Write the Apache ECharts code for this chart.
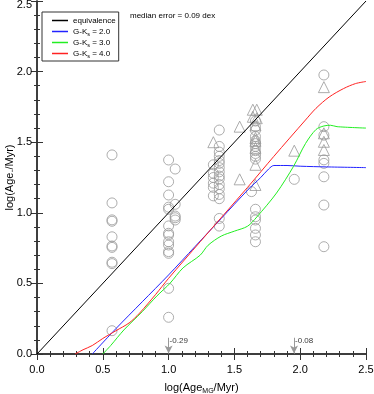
<!DOCTYPE html>
<html lang="en">
  <head>
    <meta charset="utf-8" />
    <title>Age comparison</title>
    <script type="text/javascript" src="https://cdn.jsdelivr.net/npm/echarts@6/dist/echarts.min.js"></script>
    <style type="text/css">
      * {
        margin: 0;
        padding: 0;
      }
      html,
      body,
      #chart {
        width: 100%;
        height: 100%;
        overflow: hidden;
        background: #fff;
      }
    </style>
  </head>
  <body>
    <div id="chart"></div>
    <script type="text/javascript">
      // equivalence line
      var equivalence = [[0, 0], [2.5, 2.5]];

      // model curves, G-Ks colour
      var curveGK20 = [[0.42, 0], [0.6, 0.18], [0.8, 0.37], [1.0, 0.56], [1.2, 0.76], [1.4, 0.96],
        [1.6, 1.16], [1.7, 1.25], [1.76, 1.31], [1.8, 1.335], [1.9, 1.335], [2.0, 1.33], [2.2, 1.325], [2.5, 1.32]];
      var curveGK30 = [[0.5, 0], [0.56, 0.06], [0.66, 0.17], [0.8, 0.3], [0.91, 0.41], [1.01, 0.5], [1.11, 0.61],
        [1.24, 0.7], [1.3, 0.77], [1.4, 0.835], [1.5, 0.87], [1.6, 0.905], [1.67, 0.97], [1.82, 1.14], [1.95, 1.33],
        [2.04, 1.49], [2.12, 1.59], [2.18, 1.615], [2.23, 1.62], [2.28, 1.61], [2.5, 1.6]];
      var curveGK40 = [[0.29, 0], [0.35, 0.03], [0.42, 0.06], [0.5, 0.11], [0.6, 0.165], [0.7, 0.22], [0.78, 0.29],
        [0.9, 0.42], [1.0, 0.536], [1.24, 0.795], [1.6, 1.18], [1.8, 1.4], [2.04, 1.657], [2.12, 1.74],
        [2.22, 1.82], [2.33, 1.88], [2.42, 1.915], [2.5, 1.93]];

      // individual stars (x, y)
      var circles = [
        [0.57, 1.41], [0.57, 1.07], [0.57, 0.95], [0.57, 0.94], [0.57, 0.83], [0.57, 0.765], [0.57, 0.755],
        [0.57, 0.65], [0.57, 0.64], [0.57, 0.165],
        [1.0, 1.374], [1.0, 1.22], [1.0, 1.126], [1.0, 1.04], [1.0, 1.025], [1.0, 0.907], [1.0, 0.855],
        [1.0, 0.843], [1.0, 0.795], [1.0, 0.772], [1.0, 0.725], [1.0, 0.713], [1.0, 0.465], [1.0, 0.26],
        [1.05, 1.31], [1.05, 1.06], [1.05, 0.977], [1.05, 0.965], [1.05, 0.949],
        [1.385, 1.586], [1.385, 1.47], [1.385, 1.43], [1.385, 1.4], [1.385, 1.37], [1.385, 1.35], [1.385, 1.32],
        [1.385, 1.29], [1.385, 1.26], [1.385, 1.24], [1.385, 1.2], [1.385, 1.17], [1.385, 1.13], [1.385, 1.1],
        [1.385, 0.96], [1.385, 0.906],
        [1.34, 1.34], [1.34, 1.28], [1.34, 1.25], [1.34, 1.21], [1.34, 1.18], [1.34, 1.12],
        [1.66, 1.65], [1.66, 1.61], [1.66, 1.585], [1.66, 1.54], [1.66, 1.51], [1.66, 1.49], [1.66, 1.47],
        [1.66, 1.44], [1.66, 1.42], [1.66, 1.4], [1.66, 1.38], [1.63, 1.15], [1.66, 1.025], [1.66, 0.972],
        [1.66, 0.949], [1.66, 0.89], [1.66, 0.843], [1.66, 0.795],
        [1.955, 1.237],
        [2.18, 1.976], [2.18, 1.61], [2.18, 1.55], [2.18, 1.375], [2.18, 1.35], [2.18, 1.255], [2.18, 1.055], [2.18, 0.76]
      ];
      var triangles = [
        [1.34, 1.5], [1.54, 1.61], [1.54, 1.237],
        [1.64, 1.73], [1.67, 1.73], [1.64, 1.68], [1.67, 1.67], [1.66, 1.62], [1.66, 1.53], [1.66, 1.51],
        [1.66, 1.46], [1.66, 1.34], [1.66, 1.197],
        [1.955, 1.44],
        [2.18, 1.89], [2.18, 1.563], [2.18, 1.503], [2.18, 1.445]
      ];

      // arrows for stars below the plot
      var arrowX = [1.0, 1.953];
      var arrowText = ["-0.29", "-0.08"];

      var chart = echarts.init(document.getElementById("chart"));

      var font = "Liberation Sans";
      var frame = "#333";

      function axisCommon(show) {
        return {
          min: 0,
          max: 2.5,
          interval: 0.5,
          axisLine: { show: true, lineStyle: { color: frame, width: 1.5 } },
          axisTick: { show: true, inside: true, length: 6, lineStyle: { color: frame, width: 1 } },
          minorTick: { show: true, splitNumber: 5, length: 3, lineStyle: { color: frame, width: 1 } },
          splitLine: { show: false },
          axisLabel: {
            show: show,
            color: "#000",
            fontFamily: font,
            fontSize: 11,
            formatter: function (v) {
              return v.toFixed(1);
            },
          },
        };
      }

      var xMain = axisCommon(true);
      xMain.position = "bottom";
      xMain.name = "{a|log(Age}{s|MG}{a|/Myr)}";
      xMain.nameLocation = "middle";
      xMain.nameGap = 26;
      xMain.nameMoveOverlap = false;
      xMain.nameTextStyle = {
        rich: {
          a: { fontFamily: font, fontSize: 11, color: "#000" },
          s: { fontFamily: font, fontSize: 7, color: "#000", padding: [8, 0, 0, 0] },
        },
      };
      xMain.axisLabel.margin = 10;
      var xTop = axisCommon(false);
      xTop.position = "top";

      var yMain = axisCommon(true);
      yMain.position = "left";
      yMain.name = "log(Age./Myr)";
      yMain.nameLocation = "middle";
      yMain.nameGap = 22;
      yMain.nameMoveOverlap = false;
      yMain.nameTextStyle = { fontFamily: font, fontSize: 11, color: "#000" };
      yMain.axisLabel.margin = 5;
      // keep the top label inside the page
      yMain.axisLabel.formatter = function (v) {
        return v === 2.5 ? "{t|" + v.toFixed(1) + "}" : v.toFixed(1);
      };
      yMain.axisLabel.rich = {
        t: { fontFamily: font, fontSize: 11, color: "#000", padding: [7, 0, 0, 0] },
      };
      var yRight = axisCommon(false);
      yRight.position = "right";

      function curve(name, data, color) {
        return {
          name: name,
          type: "line",
          data: data,
          showSymbol: false,
          symbol: "none",
          smooth: 0.3,
          lineStyle: { color: color, width: 1 },
          itemStyle: { color: color },
          z: 3,
          silent: true,
        };
      }

      var arrowData = arrowX.map(function (x) {
        return [{ coord: [x, 0.115] }, { coord: [x, 0.003] }];
      });
      var arrowLabels = arrowX.map(function (x, i) {
        return { value: [x, 0.09], label: { formatter: arrowText[i] } };
      });

      chart.setOption({
        animation: false,
        grid: { left: 37, right: 8, top: 1, bottom: 40, outerBoundsMode: "none", containLabel: false },
        xAxis: [xMain, xTop],
        yAxis: [yMain, yRight],
        legend: {
          left: 42,
          top: 12,
          orient: "vertical",
          icon: "rect",
          itemWidth: 16,
          itemHeight: 1.5,
          itemGap: 0,
          padding: [3, 3, 2, 10],
          backgroundColor: "#fff",
          borderColor: frame,
          borderWidth: 1,
          borderRadius: 0,
          textStyle: {
            fontFamily: font,
            fontSize: 8,
            color: "#000",
            lineHeight: 11,
            rich: {
              a: { fontFamily: font, fontSize: 8, color: "#000", lineHeight: 11 },
              s: { fontFamily: font, fontSize: 5.5, color: "#000", padding: [5, 0, 0, 0] },
            },
          },
          formatter: function (name) {
            if (name === "equivalence") return "{a|equivalence}";
            return "{a|G-K}{s|s}{a|" + name.slice(4) + "}";
          },
          data: ["equivalence", "G-Ks = 2.0", "G-Ks = 3.0", "G-Ks = 4.0"],
        },
        graphic: [
          {
            type: "text",
            left: 130,
            top: 12,
            style: { text: "median error = 0.09 dex", font: "8px " + font, fill: "#000" },
          },
        ],
        series: [
          {
            name: "circles",
            type: "scatter",
            data: circles,
            symbol: "circle",
            symbolSize: 10,
            itemStyle: { color: "rgba(0,0,0,0)", borderColor: "#999", borderWidth: 1 },
            z: 2,
            silent: true,
          },
          {
            name: "triangles",
            type: "scatter",
            data: triangles,
            symbol: "triangle",
            symbolSize: 11,
            itemStyle: { color: "rgba(0,0,0,0)", borderColor: "#999", borderWidth: 1 },
            z: 2,
            silent: true,
          },
          {
            name: "equivalence",
            type: "line",
            data: equivalence,
            showSymbol: false,
            symbol: "none",
            lineStyle: { color: "#000", width: 1 },
            itemStyle: { color: "#000" },
            z: 3,
            silent: true,
          },
          curve("G-Ks = 2.0", curveGK20, "#2222ff"),
          curve("G-Ks = 3.0", curveGK30, "#22ee22"),
          curve("G-Ks = 4.0", curveGK40, "#ff2222"),
          {
            name: "arrows",
            type: "scatter",
            data: arrowLabels,
            symbolSize: 0,
            label: {
              show: true,
              position: "right",
              distance: 1,
              fontFamily: font,
              fontSize: 8,
              color: "#000",
            },
            markLine: {
              silent: true,
              symbol: ["none", "arrow"],
              symbolSize: [6, 8],
              label: { show: false },
              lineStyle: { color: "#999", width: 1, type: "solid" },
              data: arrowData,
            },
            z: 4,
          },
        ],
      });
    </script>
  </body>
</html>
